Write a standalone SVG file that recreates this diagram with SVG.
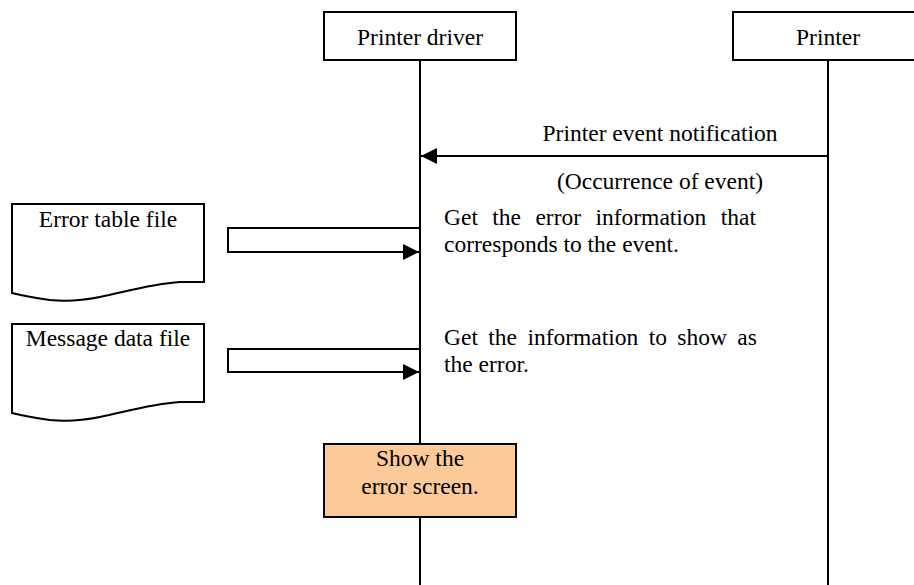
<svg xmlns="http://www.w3.org/2000/svg" width="914" height="585" viewBox="0 0 914 585">
<style>
  .t { font-family: "Liberation Serif", "Times New Roman", serif; font-size: 23.5px; fill: #000; }
  .c { text-anchor: middle; }
  .box { fill: #fff; stroke: #000; stroke-width: 2; }
  .line { fill: none; stroke: #000; stroke-width: 2; }
</style>
<defs>
  <marker id="ah" markerWidth="16" markerHeight="16" refX="16" refY="8" orient="auto" markerUnits="userSpaceOnUse">
    <path d="M0,0 L16,8 L0,16 Z" fill="#000"/>
  </marker>
</defs>
<rect width="914" height="585" fill="#fff"/>

<g id="lifelines">
  <line class="line" x1="420" y1="60" x2="420" y2="585"/>
  <line class="line" x1="828" y1="60" x2="828" y2="585"/>
</g>

<g id="printer-driver">
  <rect class="box" x="324" y="12" width="192" height="48"/>
  <text class="t c" x="420" y="45">Printer driver</text>
</g>

<g id="printer">
  <rect class="box" x="733" y="12" width="192" height="48"/>
  <text class="t c" x="828" y="45">Printer</text>
</g>

<g id="error-table-file">
  <path class="box" d="M12,204 L204,204 L204,282 L180,282 C150,284 125,292 100,297 C80,301 60,301 50,300 C35,298 20,295 12,293 Z"/>
  <text class="t c" x="108" y="227">Error table file</text>
</g>

<g id="message-data-file">
  <path class="box" d="M12,324 L204,324 L204,402 L180,402 C150,404 125,412 100,417 C80,421 60,421 50,420 C35,418 20,415 12,413 Z"/>
  <text class="t c" x="108" y="346">Message data file</text>
</g>

<g id="show-error-screen">
  <rect x="324" y="444" width="192" height="73" fill="#FBCA98" stroke="#000" stroke-width="2"/>
  <text class="t c" x="420" y="466">Show the</text>
  <text class="t c" x="420" y="494">error screen.</text>
</g>

<g id="connectors">
  <line class="line" x1="828" y1="156" x2="421" y2="156" marker-end="url(#ah)"/>
  <path class="line" d="M420,228 L228,228 L228,252 L419,252" marker-end="url(#ah)"/>
  <path class="line" d="M420,349 L228,349 L228,372 L419,372" marker-end="url(#ah)"/>
</g>

<g id="labels">
  <text class="t c" x="660" y="141">Printer event notification</text>
  <text class="t c" x="660" y="189">(Occurrence of event)</text>
  <text class="t" x="444" y="225" word-spacing="8.5">Get the error information that</text>
  <text class="t" x="444" y="252">corresponds to the event.</text>
  <text class="t" x="444" y="345" word-spacing="4.5">Get the information to show as</text>
  <text class="t" x="444" y="372">the error.</text>
</g>
</svg>
